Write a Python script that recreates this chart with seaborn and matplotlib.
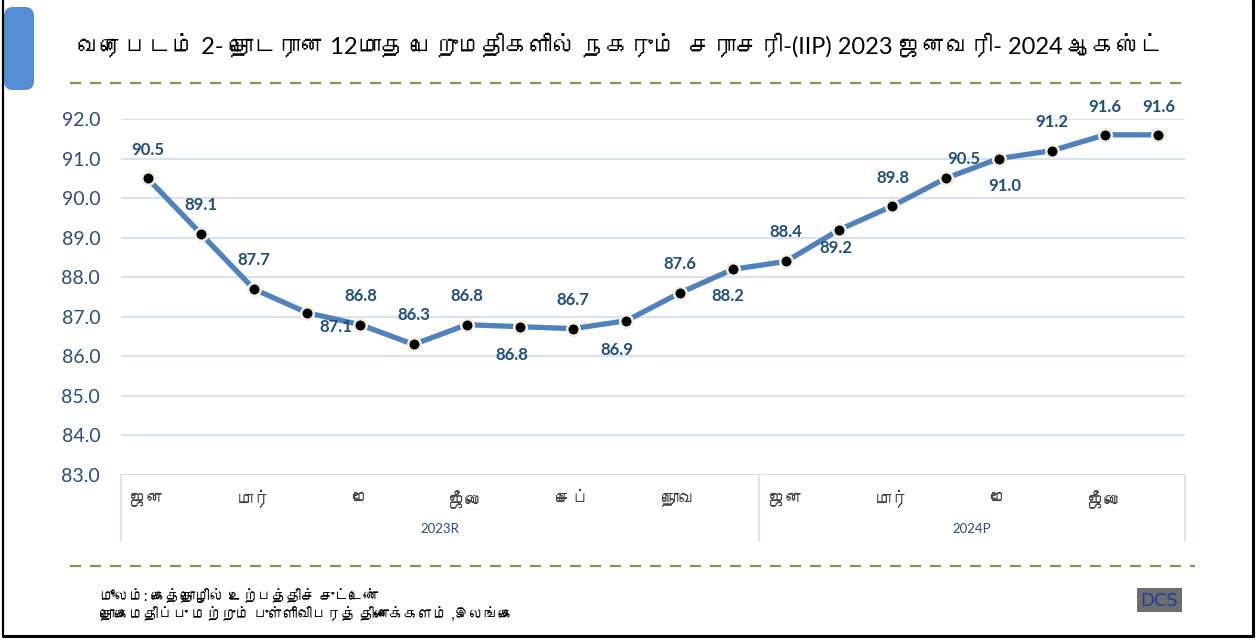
import numpy as np
import pandas as pd
import matplotlib
matplotlib.use("Agg")
import matplotlib.pyplot as plt
import seaborn as sns
from matplotlib import font_manager, ft2font
from matplotlib.lines import Line2D
from matplotlib.patches import FancyBboxPatch, Rectangle
from matplotlib.transforms import IdentityTransform

# ---------------- data ----------------
title = "வரைபடம் 2- தொடரான 12மாத பெறுமதிகளில் நகரும்  சராசரி-(IIP) 2023 ஜனவரி- 2024 ஆகஸ்ட்"
months = ["ஜன", "", "மார்", "", "மே", "", "ஜீலை", "", "செப்", "", "நொவ", "",
          "ஜன", "", "மார்", "", "மே", "", "ஜீலை", ""]
years = ["2023R", "2024P"]
year_counts = [12, 8]
values = [90.5, 89.1, 87.7, 87.1, 86.8, 86.3, 86.8, 86.75, 86.7, 86.9, 87.6, 88.2,
          88.4, 89.2, 89.8, 90.5, 91.0, 91.2, 91.6, 91.6]
value_labels = ["90.5", "89.1", "87.7", "87.1", "86.8", "86.3", "86.8", "86.8", "86.7", "86.9",
                "87.6", "88.2", "88.4", "89.2", "89.8", "90.5", "91.0", "91.2", "91.6", "91.6"]
y_ticks = [83.0, 84.0, 85.0, 86.0, 87.0, 88.0, 89.0, 90.0, 91.0, 92.0]
source_lines = ["மூலம்: கைத்தொழில் உற்பத்திச் சுட்டெண்",
                "தொகைமதிப்பு மற்றும் புள்ளிவிபரத் திணைக்களம் ,இலங்கை"]

# label offsets in pixels (dx, dy downward positive) - layout only
label_offsets = [(0, -28), (0, -29), (0, -29), (29, 14), (0, -29), (0, -29), (0, -29), (-8, 28),
                 (0, -29), (-10, 29), (0, -29), (-5, 27), (0, -29), (-3, 18), (0, -28), (18, -19),
                 (6, 27), (0, -29), (0, -28), (0, -28)]

# ---------------- fonts ----------------
def find_font(ch):
    for fe in font_manager.fontManager.ttflist:
        try:
            f = ft2font.FT2Font(fe.fname)
            if ord(ch) in f.get_charmap():
                return fe.name
        except Exception:
            pass
    return None

sns.set_theme(style="white")
tamil_font = find_font("க")
fams = ["Lato"]
if tamil_font:
    fams.append(tamil_font)
fams.append("DejaVu Sans")
plt.rcParams["font.family"] = fams

W, H = 1259, 640
fig = plt.figure(figsize=(W / 100, H / 100), dpi=100)
fig.patch.set_facecolor("white")

def fx(x):
    return x / W

def fy(y):
    return 1 - y / H

ax_l, ax_r, ax_t, ax_b = 121, 1185, 119, 475
ax = fig.add_axes([fx(ax_l), fy(ax_b), (ax_r - ax_l) / W, (ax_b - ax_t) / H])

df = pd.DataFrame({"idx": np.arange(len(values)), "value": values})
sns.lineplot(data=df, x="idx", y="value", ax=ax, color="#4F81BD", linewidth=3.8,
             marker="o", markersize=9, markerfacecolor="black",
             markeredgecolor="#F2F0E2", markeredgewidth=1.8, zorder=3)

ax.set_xlim(-0.5, len(values) - 0.5)
ax.set_ylim(83, 92)
ax.set_yticks(y_ticks)
ax.set_yticklabels([f"{v:.1f}" for v in y_ticks])
ax.yaxis.grid(True, color="#D9E2F3", linewidth=1.5)
ax.xaxis.grid(False)
for s in ax.spines.values():
    s.set_visible(False)
ax.set_xlabel("")
ax.set_ylabel("")
ax.tick_params(axis="y", length=0, pad=15, labelsize=14, labelcolor="#2E4B7D")

grid_col = "#D9E2F3"
ax.set_xticks(np.arange(len(values)))
ax.set_xticklabels(months)
ax.set_xticks(np.arange(-0.5, len(values), 1), minor=True)
ax.tick_params(axis="x", which="major", length=0, pad=11, labelsize=12.5, labelcolor="#404040")
ax.tick_params(axis="x", which="minor", length=28, width=1.3, color=grid_col, direction="out")

# year group separators and labels
px_h = ax_b - ax_t
tr = ax.get_xaxis_transform()
start = -0.5
bounds = [start]
for c in year_counts:
    bounds.append(bounds[-1] + c)
for b in bounds:
    ax.plot([b, b], [0, -66 / px_h], transform=tr, color=grid_col, lw=1.3, clip_on=False)
for i, name in enumerate(years):
    mid = (bounds[i] + bounds[i + 1]) / 2
    ax.text(mid, -54 / px_h, name, transform=tr, ha="center", va="center",
            fontsize=9.5, color="#2E4B7D")

# data labels
for i, (v, lab) in enumerate(zip(values, value_labels)):
    dx, dy = label_offsets[i]
    ax.annotate(lab, (i, v), xytext=(dx * 0.72, -dy * 0.72), textcoords="offset points",
                ha="center", va="center", fontsize=12, fontweight="bold",
                color="#1F4E79", clip_on=False, zorder=4)

# title
fig.text(fx(620), fy(45), title, ha="center", va="center", fontsize=17, color="black")

# dashed green separators
green = "#7F9A48"
fig.add_artist(Line2D([fx(70), fx(1185)], [fy(83), fy(83)], color=green, lw=1.6,
                      linestyle=(0, (5, 4))))
fig.add_artist(Line2D([fx(70), fx(1195)], [fy(566), fy(566)], color=green, lw=1.6,
                      linestyle=(0, (5, 4))))

# source text
fig.text(fx(100), fy(597), source_lines[0], ha="left", va="center", fontsize=10.5, color="black")
fig.text(fx(100), fy(615), source_lines[1], ha="left", va="center", fontsize=10.5, color="black")

# DCS logo
fig.add_artist(Rectangle((1137, H - 612), 45, 24, transform=IdentityTransform(),
                         facecolor="#6E6E6E", edgecolor="none"))
fig.text(fx(1159.5), fy(601), "DCS", ha="center", va="center", fontsize=13,
         color="#1F3C9A", family="DejaVu Sans")

# blue tab at top-left
fig.add_artist(FancyBboxPatch((4, H - 90), 30, 83, boxstyle="round,pad=0,rounding_size=9",
                              transform=IdentityTransform(), facecolor="#558ED5",
                              edgecolor="none"))
# frame
fig.add_artist(Line2D([fx(3), fx(3)], [fy(0), fy(636)], color="black", lw=1.6))
fig.add_artist(Line2D([fx(1253), fx(1253)], [fy(0), fy(636)], color="black", lw=2.2))
fig.add_artist(Line2D([fx(3), fx(1253)], [fy(636), fy(636)], color="black", lw=2.2))

fig.savefig("out.png", dpi=100)
